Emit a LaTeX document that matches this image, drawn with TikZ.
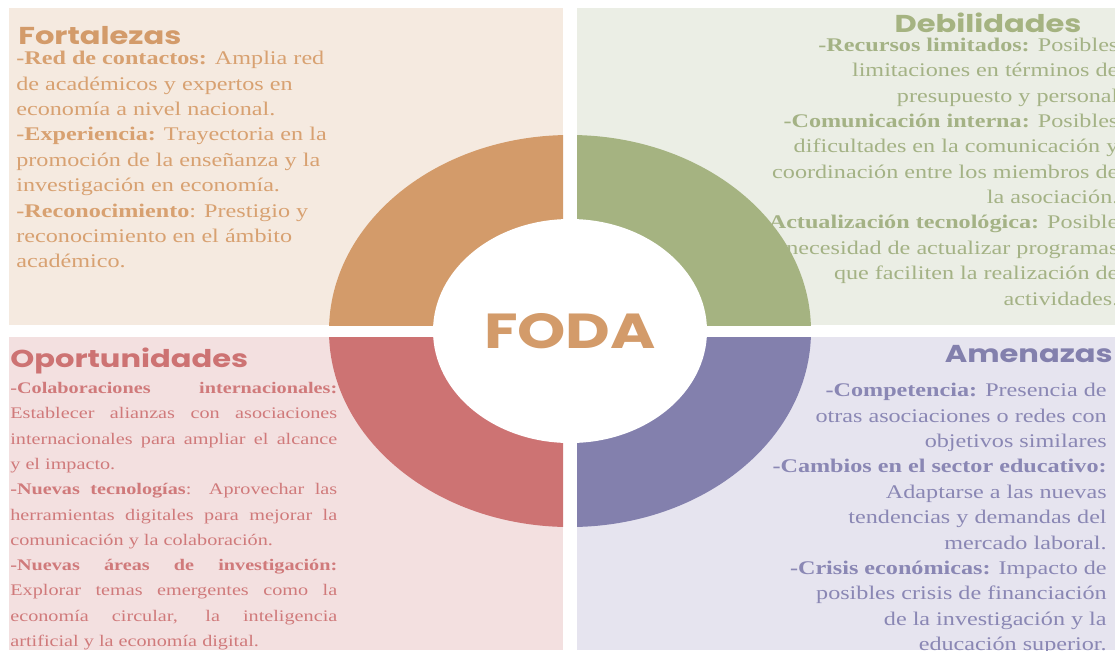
\documentclass[tikz,border=0pt]{standalone}
\usepackage{fontspec}
\setmainfont{Liberation Serif}[FakeStretch=1.25]
\newfontfamily\poppins{Poppins}[FakeStretch=1.25]
\usepackage{tikz}
\usetikzlibrary{positioning}
\definecolor{fortRing}{HTML}{D39B6A}
\definecolor{fortBg}{HTML}{F5EAE0}
\definecolor{fortTxt}{HTML}{D8A171}
\definecolor{debRing}{HTML}{A5B381}
\definecolor{debBg}{HTML}{EBEEE5}
\definecolor{debTxt}{HTML}{A4B285}
\definecolor{oporRing}{HTML}{CD7373}
\definecolor{oporBg}{HTML}{F3E0E0}
\definecolor{oporTxt}{HTML}{D07A7B}
\definecolor{amenRing}{HTML}{8380AD}
\definecolor{amenBg}{HTML}{E6E4EF}
\definecolor{amenTxt}{HTML}{8A87B4}

\begin{document}
\begin{tikzpicture}[x=0.02cm,y=-0.02cm]
 \tikzstyle{ttl}=[inner sep=0,font=\poppins\bfseries\fontsize{13.9}{16}\selectfont]
 \tikzstyle{txt}=[inner sep=0,font=\fontsize{11}{14.45}\selectfont]
 \tikzstyle{small}=[inner sep=0,font=\fontsize{9.2}{14.4}\selectfont]
 \useasboundingbox (0,0) rectangle (1115,650);
 % panels
 \fill[fortBg] (9,8) rectangle (563,325);
 \fill[debBg] (577,8) rectangle (1115,325);
 \fill[oporBg] (9,337) rectangle (563,650);
 \fill[amenBg] (577,337) rectangle (1115,650);
 % titles
 \node[ttl,text=fortRing,anchor=base west] (fortTitle) at (18,44) {Fortalezas};
 \node[ttl,text=debRing,anchor=base] (debTitle) at (988,32) {Debilidades};
 \node[ttl,text=oporRing,anchor=base west] (oporTitle) at (10,367) {Oportunidades};
 \node[ttl,text=amenRing,anchor=base east] (amenTitle) at (1113,362) {Amenazas};
 % texts
 \node[txt,text=fortTxt,align=left] (fortText) [below right=0.14cm and -0.04cm of fortTitle.base west]
  {\textbf{-Red de contactos:} Amplia red\\ de académicos y expertos en\\ economía a nivel nacional.\\
   \textbf{-Experiencia:} Trayectoria en la\\ promoción de la enseñanza y la\\ investigación en economía.\\
   \textbf{-Reconocimiento}: Prestigio y\\ reconocimiento en el ámbito\\ académico.};
 \node[txt,text=debTxt,align=right] (debText) [below left=0.11cm and -0.74cm of debTitle.base east]
  {\textbf{-Recursos limitados:} Posibles\\ limitaciones en términos de\\ presupuesto y personal\\
   \textbf{-Comunicación interna:} Posibles\\ dificultades en la comunicación y\\ coordinación entre los miembros de\\ la asociación.\\
   \textbf{-Actualización tecnológica:} Posible\\ necesidad de actualizar programas\\ que faciliten la realización de\\ actividades.};
 \node[small,text=oporTxt,text width=6.54cm,align=justify] (oporText) [below right=0.3cm and 0cm of oporTitle.base west]
  {\textbf{-Colaboraciones internacionales:}\linebreak Establecer alianzas con asociaciones\linebreak
   internacionales para ampliar el alcance\linebreak y el impacto.\\
   \textbf{-Nuevas tecnologías}: Aprovechar las\linebreak herramientas digitales para mejorar la\linebreak
   comunicación y la colaboración.\\
   \textbf{-Nuevas áreas de investigación:}\linebreak Explorar temas emergentes como la\linebreak
   economía circular, la inteligencia\linebreak artificial y la economía digital.};
 \node[txt,text=amenTxt,align=right] (amenText) [below left=0.42cm and 0.12cm of amenTitle.base east]
  {\textbf{-Competencia:} Presencia de\\ otras asociaciones o redes con\\ objetivos similares\\
   \textbf{-Cambios en el sector educativo:}\\ Adaptarse a las nuevas\\ tendencias y demandas del\\ mercado laboral.\\
   \textbf{-Crisis económicas:} Impacto de\\ posibles crisis de financiación\\ de la investigación y la\\ educación superior.};
 % ring
 \begin{scope}
  \clip (9,8) rectangle (563,325);
  \fill[fortRing] (570,331) ellipse [x radius=241,y radius=196];
 \end{scope}
 \begin{scope}
  \clip (577,8) rectangle (1115,325);
  \fill[debRing] (570,331) ellipse [x radius=241,y radius=196];
 \end{scope}
 \begin{scope}
  \clip (9,337) rectangle (563,650);
  \fill[oporRing] (570,331) ellipse [x radius=241,y radius=196];
 \end{scope}
 \begin{scope}
  \clip (577,337) rectangle (1115,650);
  \fill[amenRing] (570,331) ellipse [x radius=241,y radius=196];
 \end{scope}
 \fill[white] (570,331) ellipse [x radius=137,y radius=112];
 \node[inner sep=0,text=fortRing,font=\poppins\bfseries\fontsize{28}{30}\selectfont] (foda) at (570,331) {FODA};
\end{tikzpicture}
\end{document}
